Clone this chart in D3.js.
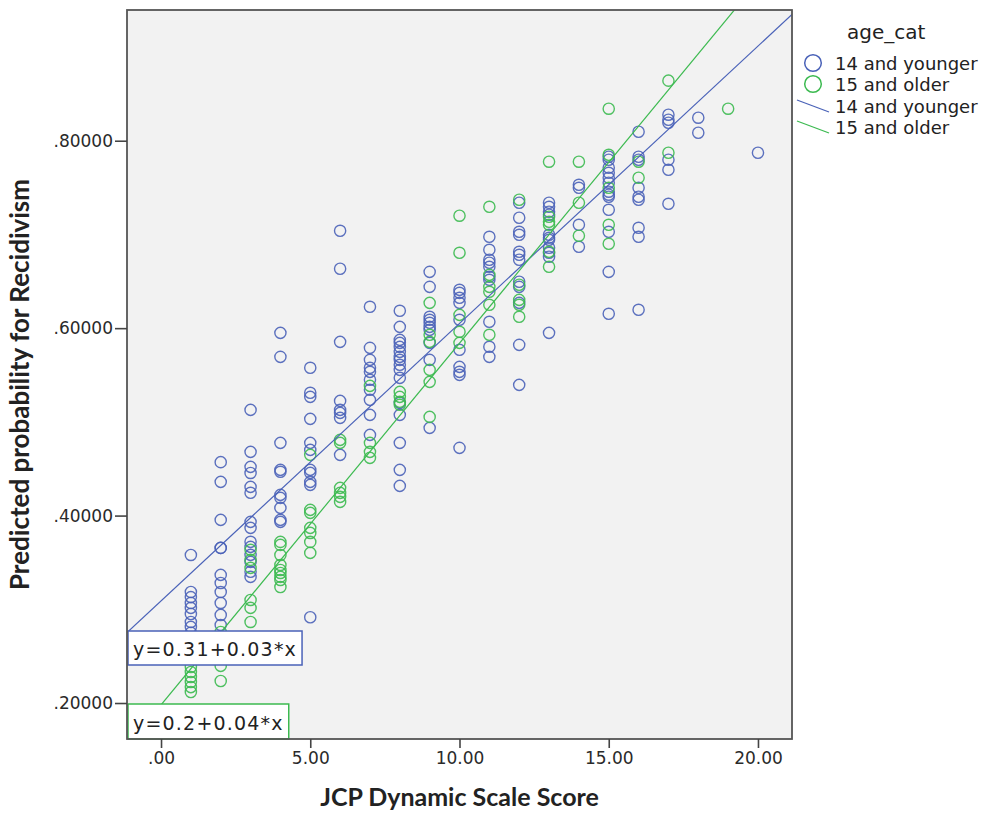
<!DOCTYPE html>
<html lang="en">
<head>
<meta charset="UTF-8">
<title>Predicted probability by JCP score</title>
<style>
  body { margin: 0; background: #ffffff; }
  svg { display: block; }
  .tick text { font-family: "DejaVu Sans", sans-serif; font-size: 17px; fill: #2a2a2a; }
  .axis-title { font-family: Lato, "Open Sans", sans-serif; font-weight: 700; font-size: 25px; fill: #222; }
  .legend text { font-family: "DejaVu Sans", sans-serif; font-size: 18px; fill: #222; }
  .eq text { font-family: "DejaVu Sans", sans-serif; font-size: 19px; fill: #222; letter-spacing: 1.2px; }
</style>
</head>
<body>
<svg id="chart" width="982" height="815"></svg>
<script src="https://d3js.org/d3.v7.min.js"></script>
<script>
// groups and colours
const groups = ["14 and younger", "15 and older"];
const colors = ["#4a62b8", "#3cba50"];

// predicted probabilities per JCP score, 14 and younger
const youngerPoints = [
  [1, [0.358, 0.3185, 0.313, 0.3068, 0.3015, 0.295, 0.2865, 0.2812, 0.275]],
  [2, [0.457, 0.436, 0.3954, 0.3655, 0.3655, 0.3367, 0.3281, 0.3185, 0.3068, 0.294, 0.2833]],
  [3, [0.5128, 0.468, 0.452, 0.4455, 0.4306, 0.4243, 0.3933, 0.3869, 0.372, 0.3666, 0.3581, 0.3506, 0.34, 0.3346]],
  [4, [0.595, 0.5694, 0.4776, 0.4488, 0.4467, 0.4221, 0.4189, 0.4082, 0.3954, 0.3933]],
  [5, [0.5577, 0.531, 0.5267, 0.5032, 0.4776, 0.4701, 0.4488, 0.4456, 0.436, 0.4328, 0.2915]],
  [6, [0.7039, 0.6634, 0.5854, 0.5224, 0.5128, 0.5096, 0.5043, 0.4648]],
  [7, [0.6228, 0.579, 0.5662, 0.5577, 0.5534, 0.5449, 0.5342, 0.5235, 0.5075, 0.4861]],
  [8, [0.6185, 0.6014, 0.5875, 0.5843, 0.58, 0.5747, 0.5694, 0.5662, 0.5609, 0.5555, 0.547, 0.5203, 0.5075, 0.4776, 0.4488, 0.4317]],
  [9, [0.6601, 0.6441, 0.6121, 0.6089, 0.6057, 0.6014, 0.5982, 0.5843, 0.5662, 0.4936]],
  [10, [0.6409, 0.6377, 0.6324, 0.627, 0.6089, 0.5769, 0.5587, 0.5534, 0.5502, 0.4723]],
  [11, [0.6975, 0.6836, 0.673, 0.6698, 0.6655, 0.6548, 0.6516, 0.6068, 0.5801, 0.5694]],
  [12, [0.7338, 0.7178, 0.7028, 0.6996, 0.6815, 0.6783, 0.673, 0.6495, 0.6441, 0.627, 0.5822, 0.5395]],
  [13, [0.7338, 0.7295, 0.7242, 0.721, 0.6996, 0.6964, 0.6943, 0.6858, 0.6804, 0.6762, 0.595]],
  [14, [0.753, 0.7498, 0.7103, 0.6868]],
  [15, [0.7829, 0.7797, 0.7712, 0.7658, 0.7605, 0.7552, 0.7456, 0.7424, 0.7402, 0.7263, 0.7028, 0.6601, 0.6153]],
  [16, [0.8096, 0.7829, 0.7797, 0.7498, 0.7402, 0.737, 0.7071, 0.6975, 0.6196]],
  [17, [0.8278, 0.8224, 0.8192, 0.7797, 0.769, 0.7327]],
  [18, [0.8246, 0.8085]],
  [20, [0.7872]]
];

// predicted probabilities per JCP score, 15 and older
const olderPoints = [
  [1, [0.2385, 0.2331, 0.2278, 0.2224, 0.217, 0.2117]],
  [2, [0.2758, 0.2396, 0.2235]],
  [3, [0.3634, 0.3527, 0.3442, 0.31, 0.3015, 0.2865]],
  [4, [0.3719, 0.3687, 0.358, 0.3473, 0.342, 0.3388, 0.3346, 0.3313, 0.3238]],
  [5, [0.4648, 0.4061, 0.4029, 0.3869, 0.3815, 0.3719, 0.3602]],
  [6, [0.4808, 0.4776, 0.4296, 0.4242, 0.42, 0.4146]],
  [7, [0.5384, 0.4776, 0.468, 0.4616]],
  [8, [0.532, 0.5267, 0.5214, 0.5182]],
  [9, [0.627, 0.5929, 0.5854, 0.5555, 0.5427, 0.5053]],
  [10, [0.72, 0.6804, 0.6142, 0.5961, 0.5843]],
  [11, [0.7295, 0.6569, 0.6441, 0.6388, 0.6249, 0.5929]],
  [12, [0.737, 0.6463, 0.6302, 0.6249, 0.6121]],
  [13, [0.7776, 0.7189, 0.7135, 0.7103, 0.6815, 0.6655]],
  [14, [0.7776, 0.7338, 0.6986]],
  [15, [0.8342, 0.785, 0.7498, 0.7103, 0.69]],
  [16, [0.7776, 0.7605]],
  [17, [0.8641, 0.7872]],
  [19, [0.8342]]
];

// fit lines (intercept, slope) and their labels
const fitIntercepts = [0.309, 0.198];
const fitSlopes = [0.0296, 0.0386];
const fitLabels = ["y=0.31+0.03*x", "y=0.2+0.04*x"];

const xTicks = [0, 5, 10, 15, 20];
const yTicks = [0.2, 0.4, 0.6, 0.8];

const svg = d3.select("#chart");
const pLeft = 127, pTop = 10, pRight = 792, pBottom = 739;

const x = d3.scaleLinear().domain([-1.14, 21.14]).range([pLeft, pRight]);
const y = d3.scaleLinear().domain([0.1616, 0.9395]).range([pBottom, pTop]);

// plot background
svg.append("rect")
  .attr("x", pLeft).attr("y", pTop)
  .attr("width", pRight - pLeft).attr("height", pBottom - pTop)
  .attr("fill", "#f2f2f2");

svg.append("clipPath").attr("id", "plotclip")
  .append("rect")
  .attr("x", pLeft).attr("y", pTop)
  .attr("width", pRight - pLeft).attr("height", pBottom - pTop);

const plot = svg.append("g").attr("clip-path", "url(#plotclip)");

// flatten the point lists
function flat(list, g) {
  const out = [];
  list.forEach(([score, vals]) => vals.forEach(v => out.push({ score, v, g })));
  return out;
}
const points = flat(youngerPoints, 0).concat(flat(olderPoints, 1));

plot.selectAll("circle.pt")
  .data(points)
  .enter()
  .append("circle")
  .attr("class", "pt")
  .attr("cx", d => x(d.score))
  .attr("cy", d => y(d.v))
  .attr("r", 5.6)
  .attr("fill", "none")
  .attr("stroke", d => colors[d.g])
  .attr("stroke-width", 1.4)
  .attr("stroke-opacity", 0.9);

// fit lines
const x0 = x.domain()[0], x1 = x.domain()[1];
plot.selectAll("line.fit")
  .data(groups)
  .enter()
  .append("line")
  .attr("class", "fit")
  .attr("x1", x(x0))
  .attr("y1", (d, i) => y(fitIntercepts[i] + fitSlopes[i] * x0))
  .attr("x2", x(x1))
  .attr("y2", (d, i) => y(fitIntercepts[i] + fitSlopes[i] * x1))
  .attr("stroke", (d, i) => colors[i])
  .attr("stroke-width", 1.2);

// equation boxes
const eqBoxes = [[631, 665], [704, 739]];
const eq = svg.append("g").attr("class", "eq");
fitLabels.forEach((label, i) => {
  const t = eq.append("text")
    .attr("x", pLeft + 6)
    .attr("y", eqBoxes[i][1] - 9)
    .text(label);
  const w = t.node().getComputedTextLength();
  eq.insert("rect", "text")
    .attr("x", pLeft + 1).attr("y", eqBoxes[i][0])
    .attr("width", w + 10).attr("height", eqBoxes[i][1] - eqBoxes[i][0])
    .attr("fill", "#ffffff")
    .attr("stroke", colors[i])
    .attr("stroke-width", 1.5);
});

// frame
svg.append("rect")
  .attr("x", pLeft).attr("y", pTop)
  .attr("width", pRight - pLeft).attr("height", pBottom - pTop)
  .attr("fill", "none")
  .attr("stroke", "#555")
  .attr("stroke-width", 1.8);

// axes
const fmt = d => d3.format(".2f")(d).replace(/^0\./, ".");
const xAxis = svg.append("g")
  .attr("transform", `translate(0,${pBottom})`)
  .call(d3.axisBottom(x).tickValues(xTicks).tickFormat(fmt).tickSize(9).tickPadding(4));
xAxis.select(".domain").remove();
xAxis.selectAll(".tick line").attr("stroke", "#444").attr("stroke-width", 1.6);

const yAxis = svg.append("g")
  .attr("transform", `translate(${pLeft},0)`)
  .call(d3.axisLeft(y).tickValues(yTicks)
    .tickFormat(d => d3.format(".5f")(d).replace(/^0\./, ".")).tickSize(12).tickPadding(2));
yAxis.select(".domain").remove();
yAxis.selectAll(".tick line").attr("stroke", "#444").attr("stroke-width", 1.6);

// axis titles
svg.append("text")
  .attr("class", "axis-title")
  .attr("x", (pLeft + pRight) / 2)
  .attr("y", 806)
  .attr("text-anchor", "middle")
  .text("JCP Dynamic Scale Score");

svg.append("text")
  .attr("class", "axis-title")
  .attr("transform", `translate(29,${(pTop + pBottom) / 2 + 10}) rotate(-90)`)
  .attr("text-anchor", "middle")
  .style("font-size", "26px")
  .text("Predicted probability for Recidivism");

// legend
const legend = svg.append("g").attr("class", "legend");
legend.append("text")
  .attr("x", 847).attr("y", 39)
  .style("font-size", "20px")
  .text("age_cat");

groups.forEach((g, i) => {
  const cy = 63 + i * 21;
  legend.append("circle")
    .attr("cx", 813).attr("cy", cy).attr("r", 8.3)
    .attr("fill", "none")
    .attr("stroke", colors[i])
    .attr("stroke-width", 1.5);
  legend.append("text")
    .attr("x", 835).attr("y", cy + 7)
    .text(g);
});
groups.forEach((g, i) => {
  const cy = 106 + i * 21;
  legend.append("line")
    .attr("x1", 797).attr("y1", cy - 6)
    .attr("x2", 829).attr("y2", cy + 6)
    .attr("stroke", colors[i])
    .attr("stroke-width", 1.3);
  legend.append("text")
    .attr("x", 835).attr("y", cy + 7)
    .text(g);
});
</script>
</body>
</html>
